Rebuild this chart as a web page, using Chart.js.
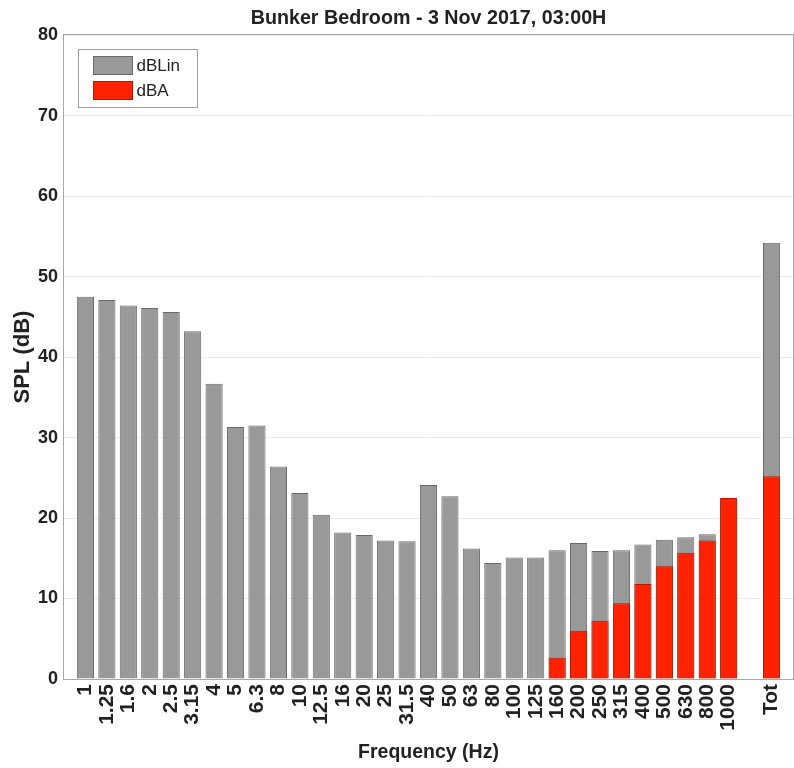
<!DOCTYPE html>
<html><head><meta charset="utf-8">
<script src="https://cdn.jsdelivr.net/npm/chart.js@4.4.1/dist/chart.umd.min.js"></script>
<style>html,body{margin:0;padding:0;background:#fff}canvas{display:block}</style>
</head><body>
<canvas id="c" width="794" height="768"></canvas>
<script>
// ---- data ----
const categories = ['1','1.25','1.6','2','2.5','3.15','4','5','6.3','8','10','12.5','16','20','25','31.5','40','50','63','80','100','125','160','200','250','315','400','500','630','800','1000','','Tot'];
const dBLin = [47.5,47.1,46.4,46.1,45.6,43.2,36.7,31.3,31.5,26.4,23.1,20.4,18.2,17.9,17.2,17.1,24.1,22.7,16.2,14.4,15.1,15.1,16.0,16.9,15.9,16.0,16.7,17.3,17.6,18.0,22.4,0,54.2];
const dBA = [null,null,null,null,null,null,null,null,null,null,null,null,null,null,null,null,null,null,null,null,null,null,2.65,6.0,7.25,9.4,11.8,14.0,15.7,17.2,22.5,null,25.2];
const yTicks = [0,10,20,30,40,50,60,70,80];
const seriesNames = ['dBLin','dBA'];
const chartTitle = 'Bunker Bedroom - 3 Nov 2017, 03:00H';
const xTitle = 'Frequency (Hz)';
const yTitle = 'SPL (dB)';

// x limits run half a slot beyond the first and last bar (empty edge slots)
const labels = [''].concat(categories, ['']);
const pad = a => [null].concat(a, [null]);

const FONT = '"Liberation Sans", Arial, Helvetica, sans-serif';
const INK = '#222222';
const GREY = '#999999', GREY_EDGE = '#6a6a6a';
const RED = '#ff2200', RED_EDGE = '#b81800';

const frameLegend = {
  id: 'frameLegend',
  beforeDatasetsDraw(chart) {
    const {ctx, chartArea: a} = chart;
    ctx.save();
    ctx.strokeStyle = '#a8a8a8';
    ctx.lineWidth = 1;
    ctx.strokeRect(Math.round(a.left) - 0.5, Math.round(a.top) - 0.5,
                   Math.round(a.right - a.left) + 1, Math.round(a.bottom - a.top) + 1);
    ctx.restore();
  },
  afterDraw(chart) {
    const {ctx, chartArea: a} = chart;
    const ds = chart.data.datasets;
    const bx = Math.round(a.left) + 14.5, by = Math.round(a.top) + 14.5;
    const bw = 119, bh = 58;
    ctx.save();
    ctx.fillStyle = '#ffffff';
    ctx.fillRect(bx, by, bw, bh);
    ctx.strokeStyle = '#a0a0a0';
    ctx.lineWidth = 1;
    ctx.strokeRect(bx, by, bw, bh);
    ctx.font = '17px ' + FONT;
    ctx.textBaseline = 'middle';
    ctx.textAlign = 'left';
    ds.forEach((d, i) => {
      const sx = bx + 15, sy = by + 7 + i * 25, sw = 39, sh = 18;
      ctx.fillStyle = d.backgroundColor;
      ctx.fillRect(sx, sy, sw, sh);
      ctx.strokeStyle = d.borderColor;
      ctx.strokeRect(sx, sy, sw, sh);
      ctx.fillStyle = INK;
      ctx.fillText(d.label, sx + sw + 4, sy + sh / 2 + 1);
    });
    ctx.restore();
  }
};

new Chart(document.getElementById('c'), {
  type: 'bar',
  data: {
    labels: labels,
    datasets: [
      { label: seriesNames[0], data: pad(dBLin), backgroundColor: GREY, borderColor: GREY_EDGE,
        borderWidth: 1, order: 2, barPercentage: 0.8, categoryPercentage: 1.0 },
      { label: seriesNames[1], data: pad(dBA), backgroundColor: RED, borderColor: RED_EDGE,
        borderWidth: 1, order: 1, barPercentage: 0.8, categoryPercentage: 1.0 }
    ]
  },
  options: {
    responsive: false,
    animation: false,
    layout: { padding: { left: 0, right: 1, top: 0, bottom: 0 } },
    plugins: {
      legend: { display: false },
      tooltip: { enabled: false },
      title: {
        display: true, text: chartTitle, fullSize: false, color: INK,
        font: { family: FONT, size: 19.7, weight: 'bold' },
        padding: { top: 7, bottom: 4.5 }
      }
    },
    scales: {
      x: {
        stacked: true,
        offset: false,
        grid: { display: false, drawTicks: false },
        border: { display: false },
        ticks: {
          autoSkip: false, maxRotation: 90, minRotation: 90, padding: 5, color: INK,
          font: { family: FONT, size: 21, weight: 'bold' }
        },
        title: { display: true, text: xTitle, color: INK,
          font: { family: FONT, size: 19.5, weight: 'bold' }, padding: { top: 0, bottom: 4 } },
        afterFit: s => { s.height = 89; s.paddingLeft = 0; s.paddingRight = 0; }
      },
      y: {
        stacked: false,
        min: 0, max: 80,
        afterBuildTicks: s => { s.ticks = yTicks.map(v => ({ value: v })); },
        grid: { color: '#ececec', drawTicks: false },
        border: { display: false },
        ticks: { padding: 6, color: INK, font: { family: FONT, size: 18, weight: 'bold' } },
        title: { display: true, text: yTitle, color: INK,
          font: { family: FONT, size: 22, weight: 'bold' }, padding: { top: 10, bottom: 0 } },
        afterFit: s => { s.width = 64; }
      }
    }
  },
  plugins: [frameLegend]
});
</script>
</body></html>
